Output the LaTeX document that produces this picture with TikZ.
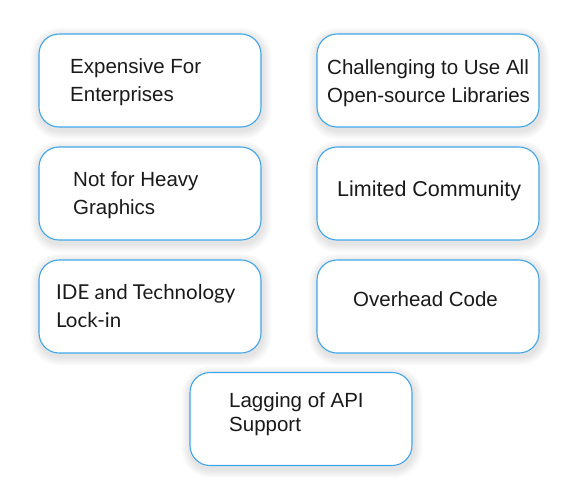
\documentclass[tikz,border=0pt]{standalone}
\usepackage{fontspec}
\setmainfont{Liberation Sans}
\newfontfamily\latofont{Lato}
\usetikzlibrary{backgrounds}
\definecolor{boxblue}{HTML}{3FA6EA}
\definecolor{ink}{HTML}{1A1A1A}
\newcommand\softshadow[1]{%
  \foreach \i in {1,...,9} {%
    \pgfmathsetlengthmacro\rr{20pt+\i pt}%
    \fill[black, opacity=0.012, rounded corners=\rr]
      ([shift={(-\i+1,-\i+3)}]#1.north west) rectangle ([shift={(\i+1,\i+3)}]#1.south east);
  }%
}
\begin{document}
\begin{tikzpicture}[x=1pt,y=-1pt,
  box/.style={draw=boxblue, line width=1.1pt, fill=white, rounded corners=20pt,
    minimum width=222pt, minimum height=93pt, inner sep=0pt},
  lbl/.style={anchor=base west, align=left, inner sep=0pt,
    font=\fontsize{20.5}{28}\selectfont, text=ink}]
\useasboundingbox (0,0) rectangle (581,501);
\node[box] (b1) at (150,80.5) {};
\node[box] (b2) at (428,80.5) {};
\node[box] (b3) at (150,193.5) {};
\node[box] (b4) at (428,193.5) {};
\node[box] (b5) at (150,306.5) {};
\node[box] (b6) at (428,306.5) {};
\node[box] (b7) at (301,419) {};
\begin{pgfonlayer}{background}
  \fill[white] (0,0) rectangle (581,501);
  \softshadow{b1}\softshadow{b2}\softshadow{b3}\softshadow{b4}
  \softshadow{b5}\softshadow{b6}\softshadow{b7}
\end{pgfonlayer}
\node[lbl] (t1) at (70,101) {Expensive For\\Enterprises};
\node[lbl] (t2) at (327,102) {Challenging to Use All\\Open-source Libraries};
\node[lbl] (t3) at (73,214) {Not for Heavy\\Graphics};
\node[lbl, font=\fontsize{21.5}{28}\selectfont] (t4) at (337,196) {Limited Community};
\node[lbl, font=\latofont\fontsize{20.5}{28}\selectfont] (t5) at (56,327) {IDE and Technology\\Lock-in};
\node[lbl] (t6) at (353,306) {Overhead Code};
\node[lbl, font=\fontsize{20.5}{24}\selectfont] (t7) at (229,431) {Lagging of API\\Support};
\end{tikzpicture}
\end{document}
